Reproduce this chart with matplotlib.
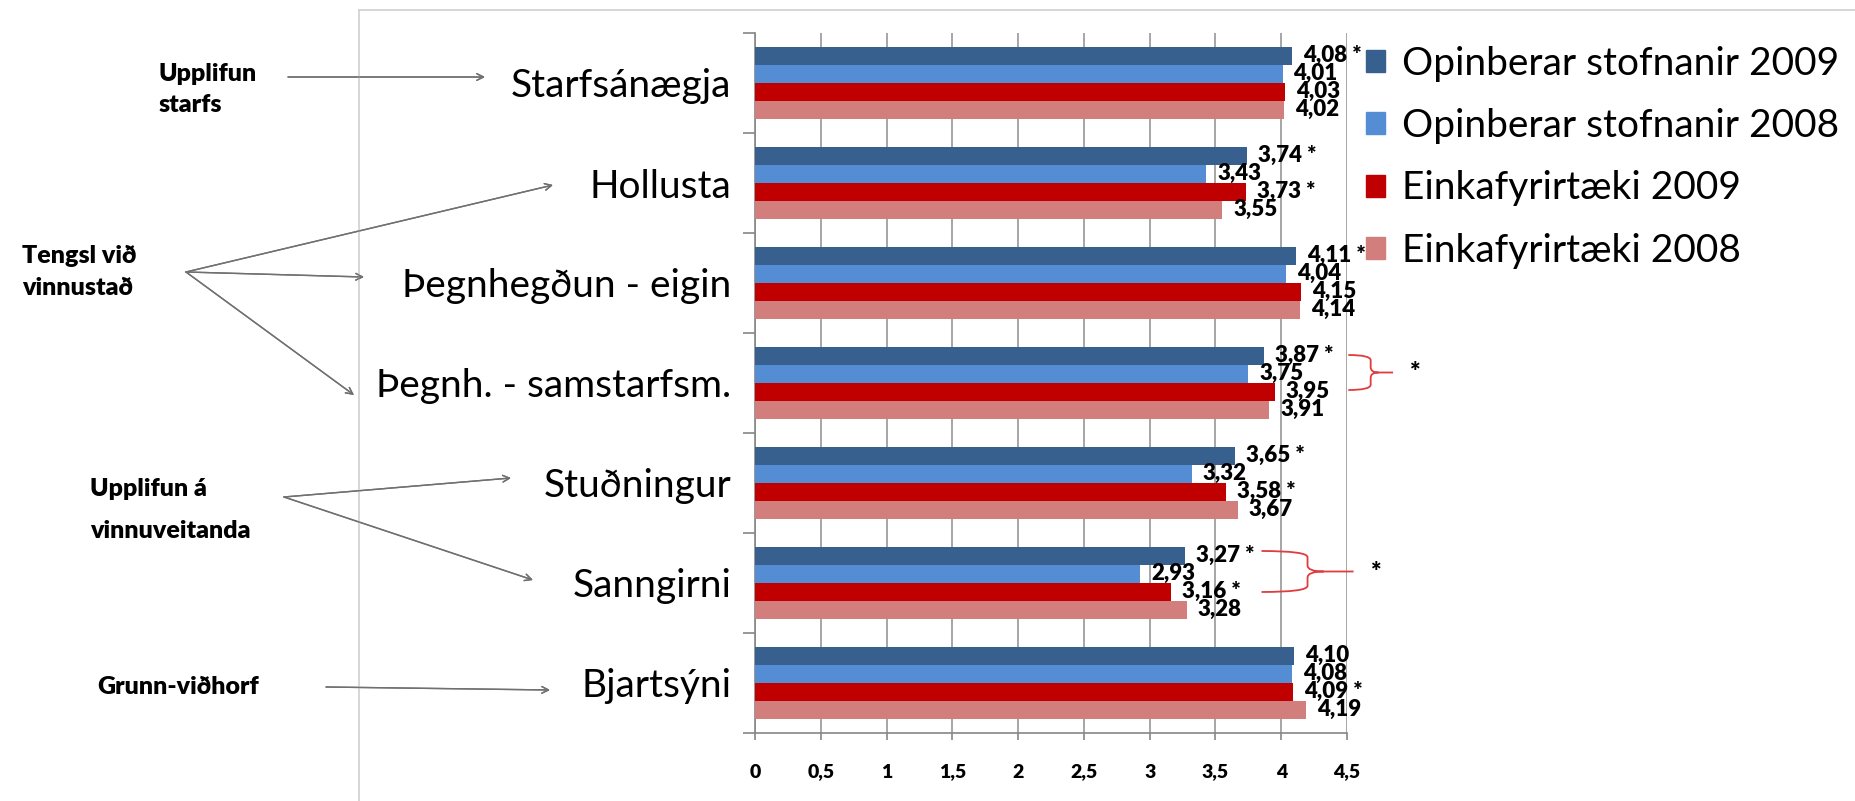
import numpy as np
import matplotlib.pyplot as plt
from matplotlib.path import Path
from matplotlib.patches import PathPatch, Patch
from matplotlib.lines import Line2D

plt.rcParams['font.family'] = ['Lato', 'DejaVu Sans']

categories = ["Starfsánægja", "Hollusta", "Þegnhegðun - eigin", "Þegnh. - samstarfsm.",
              "Stuðningur", "Sanngirni", "Bjartsýni"]
series_names = ["Opinberar stofnanir 2009", "Opinberar stofnanir 2008",
                "Einkafyrirtæki 2009", "Einkafyrirtæki 2008"]
opin_2009 = [4.08, 3.74, 4.11, 3.87, 3.65, 3.27, 4.10]
opin_2008 = [4.01, 3.43, 4.04, 3.75, 3.32, 2.93, 4.08]
einka_2009 = [4.03, 3.73, 4.15, 3.95, 3.58, 3.16, 4.09]
einka_2008 = [4.02, 3.55, 4.14, 3.91, 3.67, 3.28, 4.19]
# significance star after the value label
opin_2009_star = [1, 1, 1, 1, 1, 1, 0]
opin_2008_star = [0, 0, 0, 0, 0, 0, 0]
einka_2009_star = [0, 1, 0, 0, 1, 1, 1]
einka_2008_star = [0, 0, 0, 0, 0, 0, 0]
xticks = [0, 0.5, 1, 1.5, 2, 2.5, 3, 3.5, 4, 4.5]

colors = ["#37608F", "#558DD4", "#C00000", "#D27E7C"]
W, H = 1855, 801


def px(x, y):
    return (x / W, 1 - y / H)


fig = plt.figure(figsize=(W / 100, H / 100), dpi=100)
ax = fig.add_axes([755 / W, 68 / H, 592 / W, 700 / H])

values = [opin_2009, opin_2008, einka_2009, einka_2008]
stars = [opin_2009_star, opin_2008_star, einka_2009_star, einka_2008_star]
bh = 0.18
ypos = np.arange(len(categories))
for j, (vals, st) in enumerate(zip(values, stars)):
    yy = ypos + (j - 1.5) * bh
    ax.barh(yy, vals, height=bh, color=colors[j], label=series_names[j], zorder=3)
    for y, v, s in zip(yy, vals, st):
        txt = f"{v:.2f}".replace(".", ",") + (" *" if s else "")
        ax.annotate(txt, (v, y), xytext=(11, 1), textcoords="offset pixels",
                    ha="left", va="center", fontsize=16, fontweight="heavy",
                    annotation_clip=False, zorder=4)

ax.set_xlim(0, 4.5)
ax.set_ylim(len(categories) - 0.5, -0.5)
ax.set_xticks(xticks)
ax.set_xticklabels([f"{t:g}".replace(".", ",") for t in xticks], fontsize=14, fontweight="heavy")
ax.set_yticks(ypos)
ax.set_yticklabels(categories, fontsize=28)
ax.set_yticks(np.arange(len(categories) + 1) - 0.5, minor=True)
ax.tick_params(axis="y", which="major", length=0, pad=17)
ax.tick_params(axis="y", which="minor", length=9, color="#868686", width=1.2)
ax.tick_params(axis="x", length=5, color="#868686", width=1.2, pad=17)
ax.grid(axis="x", color="#A6A6A6", lw=1.4, zorder=0)
for s in ["top", "right"]:
    ax.spines[s].set_visible(False)
for s in ["left", "bottom"]:
    ax.spines[s].set_color("#868686")
    ax.spines[s].set_linewidth(1.2)

# legend
handles = [Patch(color=c) for c in colors]
fig.legend(handles, series_names, loc="upper left", bbox_to_anchor=px(1350, 30),
           frameon=False, fontsize=28, handlelength=0.5, handleheight=0.5,
           handletextpad=0.45, labelspacing=0.68, borderaxespad=0)

# outer chart border
fig.add_artist(Line2D([359 / W, 1], [1 - 10 / H] * 2, color="#D0D0D0", lw=1.2))
fig.add_artist(Line2D([359 / W] * 2, [0, 1 - 10 / H], color="#D0D0D0", lw=1.2))


# red braces next to significant differences
def brace(x0, x1, xt, ytop, ybot):
    ym = (ytop + ybot) / 2
    r = (ym - ytop) * 0.3
    tx = (xt - x1) * 0.35
    verts = [(x0, ytop), (x1, ytop), (x1, ytop + r), (x1, ym - r),
             (x1, ym), (x1 + tx, ym), (xt, ym),
             (x1 + tx, ym), (x1, ym), (x1, ym + r), (x1, ybot - r),
             (x1, ybot), (x0, ybot)]
    codes = [Path.MOVETO, Path.CURVE3, Path.CURVE3, Path.LINETO,
             Path.CURVE3, Path.CURVE3, Path.LINETO,
             Path.MOVETO, Path.CURVE3, Path.CURVE3, Path.LINETO,
             Path.CURVE3, Path.CURVE3]
    ax.add_patch(PathPatch(Path(verts, codes), fill=False, ec="#E03C3C", lw=1.3,
                           clip_on=False, zorder=5))
    ax.text(xt + 0.17, ym, "*", fontsize=18, fontweight="heavy", ha="center", va="center",
            clip_on=False)


brace(4.51, 4.68, 4.85, 3 - 1.5 * bh - 0.01, 3 + 0.5 * bh - 0.02)
brace(3.85, 4.2, 4.55, 5 - 1.5 * bh - 0.05, 5 + 0.5 * bh)

# group annotations with arrows on the left
def note(text, x, y):
    fig.text(*px(x, y), text, fontsize=18, fontweight="heavy", ha="left", va="center")


def arrow(x0, y0, x1, y1):
    fig.add_artist(plt.annotate("", xy=px(x1, y1), xytext=px(x0, y0), xycoords="figure fraction",
                                arrowprops=dict(arrowstyle="->", color="#707070", lw=1,
                                                shrinkA=0, shrinkB=0, mutation_scale=12)))


note("Upplifun", 159, 74)
note("starfs", 159, 105)
arrow(288, 77, 485, 77)
note("Tengsl við", 22, 256)
note("vinnustað", 22, 288)
arrow(186, 272, 553, 185)
arrow(186, 272, 364, 277)
arrow(186, 272, 354, 395)
note("Upplifun á", 90, 489)
note("vinnuveitanda", 90, 531)
arrow(284, 497, 511, 478)
arrow(284, 497, 533, 580)
note("Grunn-viðhorf", 97, 687)
arrow(326, 687, 550, 690)

fig.savefig("out.png", dpi=100)
